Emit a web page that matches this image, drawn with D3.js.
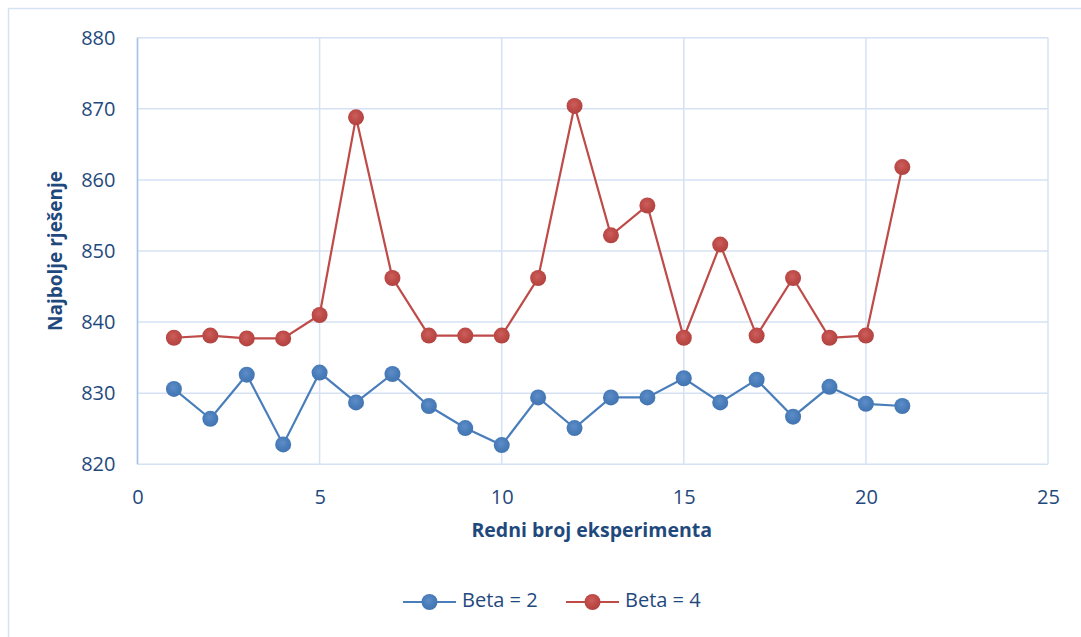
<!DOCTYPE html>
<html><head><meta charset="utf-8">
<script src="https://cdn.jsdelivr.net/npm/d3@7"></script>
<style>html,body{margin:0;padding:0;background:#fff;}svg{display:block;}</style>
</head><body>
<svg id="chart" width="1081" height="637"></svg>
<script>
const experiments = [1,2,3,4,5,6,7,8,9,10,11,12,13,14,15,16,17,18,19,20,21];
const beta2 = [830.6,826.4,832.6,822.8,832.9,828.7,832.7,828.2,825.1,822.7,829.4,825.1,829.4,829.4,832.1,828.7,831.9,826.7,830.9,828.5,828.2];
const beta4 = [837.8,838.1,837.7,837.7,841.0,868.8,846.2,838.1,838.1,838.1,846.2,870.4,852.2,856.4,837.8,850.9,838.1,846.2,837.8,838.1,861.8];
const seriesNames = ["Beta = 2","Beta = 4"];
const xTicks = [0,5,10,15,20,25];
const yTicks = [820,830,840,850,860,870,880];
const xTitle = "Redni broj eksperimenta";
const yTitle = "Najbolje rješenje";

const svg = d3.select("#chart");
const font = "'Open Sans', 'Noto Sans', sans-serif";
const textColor = "#1F497D";
const gridColor = "#D6E2F3";
const colors = ["#4A7EBB","#BE4B48"];
const dark = ["#4274B0","#B04340"];
const light = ["#5F8DC8","#CB5F5C"];

const defs = svg.append("defs");
colors.forEach((c,i)=>{
  const g = defs.append("radialGradient").attr("id","grad"+i).attr("cx","45%").attr("cy","40%").attr("r","60%");
  g.append("stop").attr("offset","0%").attr("stop-color",light[i]);
  g.append("stop").attr("offset","55%").attr("stop-color",c);
  g.append("stop").attr("offset","100%").attr("stop-color",dark[i]);
});

// outer border
svg.append("rect").attr("x",8.5).attr("y",8.5).attr("width",1100).attr("height",700)
  .attr("fill","none").attr("stroke","#D6E2F3").attr("stroke-width",1.5);

const L=137.5, R=1048, T=37.7, B=464.3;
const x = d3.scaleLinear().domain([0,25]).range([L,R]);
const y = d3.scaleLinear().domain([820,880]).range([B,T]);

// grid
const grid = svg.append("g");
grid.selectAll("line.h").data(yTicks).join("line")
  .attr("x1",L).attr("x2",R).attr("y1",d=>y(d)).attr("y2",d=>y(d))
  .attr("stroke",gridColor).attr("stroke-width",1.5);
grid.selectAll("line.v").data(xTicks).join("line")
  .attr("y1",T).attr("y2",B).attr("x1",d=>x(d)).attr("x2",d=>x(d))
  .attr("stroke",gridColor).attr("stroke-width",1.5);
svg.append("line").attr("x1",L).attr("x2",L).attr("y1",T).attr("y2",B)
  .attr("stroke","#A9C1E2").attr("stroke-width",1.5);

const yAxis = svg.append("g").attr("transform",`translate(${L},0)`)
  .call(d3.axisLeft(y).tickValues(yTicks).tickSize(0).tickPadding(22));
const xAxis = svg.append("g").attr("transform",`translate(0,${B})`)
  .call(d3.axisBottom(x).tickValues(xTicks).tickSize(0).tickPadding(22));
[yAxis,xAxis].forEach(a=>{
  a.select(".domain").remove();
  a.selectAll("text").attr("fill",textColor).style("font-family",font).style("font-size","20px");
});
xAxis.selectAll("text").attr("dy","0.35em").attr("y",33);

svg.append("text").attr("x",(L+R)/2-1).attr("y",532).attr("text-anchor","middle")
  .attr("fill",textColor).style("font-family",font).style("font-size","19.5px").style("font-weight","bold")
  .attr("dominant-baseline","middle").text(xTitle);
svg.append("text").attr("transform",`translate(57,${(T+B)/2}) rotate(-90)`).attr("text-anchor","middle")
  .attr("fill",textColor).style("font-family",font).style("font-size","19px").style("font-weight","bold")
  .attr("dominant-baseline","middle").text(yTitle);

const data = [beta2,beta4];
const line = d3.line().x((d,i)=>x(experiments[i])).y(d=>y(d));
data.forEach((s,i)=>{
  svg.append("path").datum(s).attr("d",line).attr("fill","none")
    .attr("stroke",colors[i]).attr("stroke-width",2.2);
  svg.append("g").selectAll("circle").data(s).join("circle")
    .attr("cx",(d,j)=>x(experiments[j])).attr("cy",d=>y(d)).attr("r",8)
    .attr("fill",`url(#grad${i})`);
});

const legX = [403,566];
seriesNames.forEach((n,i)=>{
  const g = svg.append("g").attr("transform",`translate(${legX[i]},602)`);
  g.append("line").attr("x1",0).attr("x2",53).attr("stroke",colors[i]).attr("stroke-width",2.2);
  g.append("circle").attr("cx",26.5).attr("cy",0).attr("r",8).attr("fill",`url(#grad${i})`);
  g.append("text").attr("x",59).attr("y",0).attr("dominant-baseline","middle")
    .attr("fill",textColor).style("font-family",font).style("font-size","20px").text(n);
});
</script>
</body></html>
